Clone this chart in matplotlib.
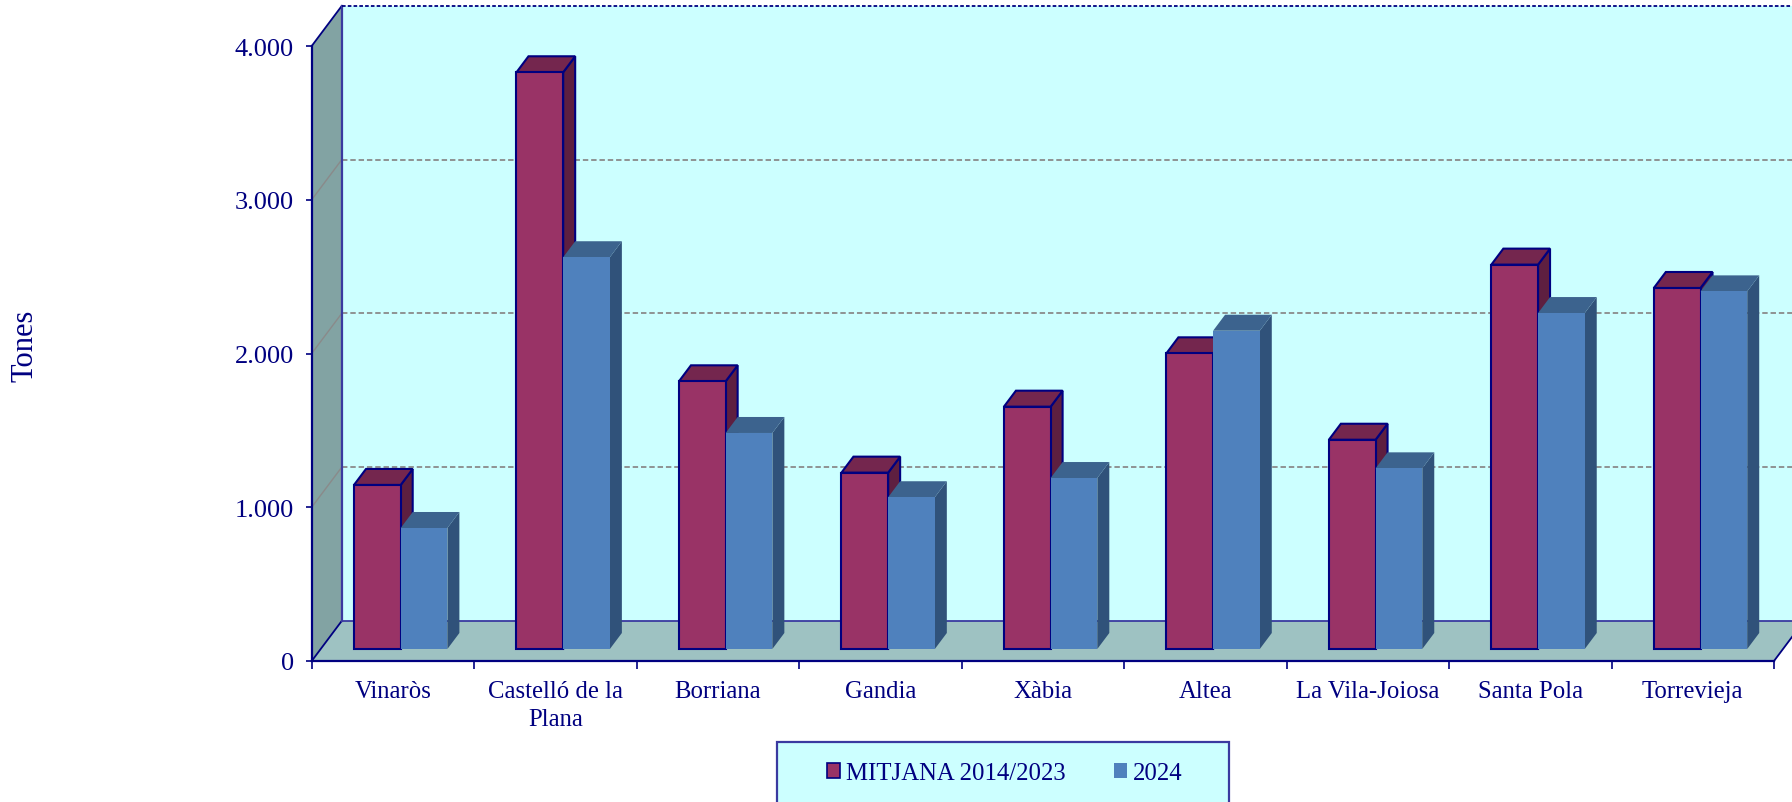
import matplotlib
matplotlib.use('Agg')
import matplotlib.pyplot as plt
from matplotlib.patches import Polygon, Rectangle, Patch

# ---------------- data ----------------
categories = ['Vinaròs', 'Castelló de la\nPlana', 'Borriana', 'Gandia', 'Xàbia',
              'Altea', 'La Vila-Joiosa', 'Santa Pola', 'Torrevieja']
mitjana = [1067, 3751, 1741, 1147, 1576, 1923, 1361, 2500, 2348]
valors_2024 = [787, 2548, 1405, 987, 1112, 2070, 1175, 2185, 2326]
series_labels = ['MITJANA 2014/2023', '2024']
y_ticks = [0, 1000, 2000, 3000, 4000]
y_tick_labels = ['0', '1.000', '2.000', '3.000', '4.000']
y_label = 'Tones'

# ---------------- style ----------------
NAVY = '#000080'
WALL = '#CCFFFF'
SIDE = '#82A3A3'
FLOOR = '#9EC2C2'
GRID = '#8A8A8A'
RED = ('#993366', '#74264E', '#5E1F40')
BLUE = ('#4F81BD', '#3C638E', '#30527A')
FS = 17.8

plt.rcParams['font.family'] = ['Liberation Serif', 'DejaVu Serif']

W, H = 1792, 803
fig = plt.figure(figsize=(W / 100, H / 100), dpi=100)
fig.patch.set_facecolor('white')
ax = fig.add_axes([311.7 / W, 141 / H, 1462.3 / W, 615 / H])
n = len(categories)
ymax = y_ticks[-1]
ax.set_xlim(0, n)
ax.set_ylim(0, ymax)
ax.set_facecolor('none')

# 3D box depth (oblique projection), in data units
DX, DY = 0.1846, 260.2
FRONT, DEPTH = 0.3, 0.4
BAR_W, BAR_X0 = 0.2874, 0.205


def poly(pts, fc, ec='none', lw=0.0, z=1.0):
    ax.add_patch(Polygon(pts, closed=True, facecolor=fc, edgecolor=ec,
                         linewidth=lw, zorder=z, clip_on=False, joinstyle='miter'))


def line(xs, ys, **kw):
    kw.setdefault('clip_on', False)
    ax.plot(xs, ys, **kw)


# walls and floor
poly([(DX, DY), (n + DX, DY), (n + DX, ymax + DY), (DX, ymax + DY)], WALL, z=0.2)
poly([(0, 0), (DX, DY), (DX, ymax + DY), (0, ymax)], SIDE, z=0.3)
poly([(0, 0), (n, 0), (n + DX, DY), (DX, DY)], FLOOR, z=0.3)

# gridlines
for v in y_ticks[1:-1]:
    line([DX, n + DX], [v + DY, v + DY], color=GRID, lw=1.3, ls=(0, (3, 1.6)), zorder=0.5)
    line([0, DX], [v, v + DY], color=GRID, lw=1.0, zorder=0.5)

# box edges
line([0, DX], [0, DY], color=NAVY, lw=1.3, zorder=0.6)
line([0, DX], [ymax, ymax + DY], color=NAVY, lw=1.3, zorder=0.6)
line([DX, DX], [DY, ymax + DY], color='#3A3AA0', lw=1.6, zorder=0.6)
line([DX, n + DX], [DY, DY], color='#3A3AA0', lw=1.3, zorder=0.6)
line([n, n + DX], [0, DY], color=NAVY, lw=1.3, zorder=0.6)
line([DX, n + DX], [ymax + DY, ymax + DY], color=NAVY, lw=1.3, ls=(0, (2, 1.2)), zorder=0.6)

# bars
ddx, ddy = DEPTH * DX, DEPTH * DY
for i in range(n):
    for j, (vals, cols, ec, lw) in enumerate([(mitjana, RED, NAVY, 1.5),
                                              (valors_2024, BLUE, 'none', 0.0)]):
        v = vals[i]
        x0 = i + BAR_X0 + FRONT * DX + j * BAR_W
        x1 = x0 + BAR_W
        y0 = FRONT * DY
        z = 3 + i * 0.1 + j * 0.01
        poly([(x1, y0), (x1 + ddx, y0 + ddy), (x1 + ddx, y0 + v + ddy), (x1, y0 + v)],
             cols[2], ec, lw, z)
        poly([(x0, y0 + v), (x1, y0 + v), (x1 + ddx, y0 + v + ddy), (x0 + ddx, y0 + v + ddy)],
             cols[1], ec, lw, z + 0.001)
        poly([(x0, y0), (x1, y0), (x1, y0 + v), (x0, y0 + v)], cols[0], ec, lw, z + 0.002)

# axes / ticks
for s in ['top', 'right']:
    ax.spines[s].set_visible(False)
for s in ['left', 'bottom']:
    ax.spines[s].set_color(NAVY)
    ax.spines[s].set_linewidth(1.6)
    ax.spines[s].set_zorder(0.7)

ax.set_yticks(y_ticks, y_tick_labels)
ax.tick_params(axis='y', direction='out', length=4.5, width=1.2, color=NAVY,
               pad=8.5, labelsize=19, labelcolor=NAVY)
ax.set_xticks(range(n + 1), [''] * (n + 1))
ax.set_xticks([i + 0.5 for i in range(n)], categories, minor=True)
ax.tick_params(axis='x', which='major', direction='out', length=6, width=1.2, color=NAVY)
ax.tick_params(axis='x', which='minor', length=0, pad=14, labelsize=FS, labelcolor=NAVY)
for t in ax.get_xticklabels(minor=True):
    t.set_linespacing(1.3)

fig.text(25 / W, 1 - 346 / H, y_label, rotation=90, ha='center', va='center',
         fontsize=22, color=NAVY)

# legend
fig.patches.append(Rectangle((777 / W, -10 / H), 452 / W, (803 - 742.7 + 10) / H,
                             transform=fig.transFigure, facecolor=WALL,
                             edgecolor='#3A3AA0', linewidth=1.6, zorder=5))
handles = [Patch(facecolor=RED[0], edgecolor=NAVY, linewidth=1.2),
           Patch(facecolor=BLUE[0], edgecolor='none')]
leg = fig.legend(handles, series_labels, loc='center left',
                 bbox_to_anchor=(827 / W, 1 - 774 / H), ncol=2, frameon=False,
                 borderpad=0, borderaxespad=0, handlelength=0.54, handleheight=0.54,
                 handletextpad=0.22, columnspacing=1.95, prop={'size': FS})
leg.set_zorder(6)
for t in leg.get_texts():
    t.set_color(NAVY)

fig.savefig('out.png', dpi=100)
